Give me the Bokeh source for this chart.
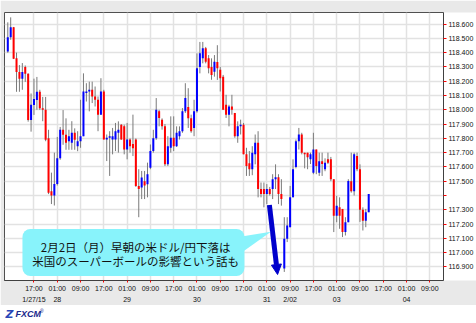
from bokeh.plotting import figure
from bokeh.models import (Range1d, FixedTicker, LinearAxis, Label, BoxAnnotation,
                          Arrow, NormalHead, ColumnDataSource)
from bokeh.layouts import column
from bokeh.embed import file_html
from bokeh.resources import INLINE

# ---------------- data (USD/JPY, 1 hour, 125 bars) ----------------
opens = [118.408, 118.508, 118.577, 118.36, 118.265, 118.218, 118.30, 118.253, 117.929, 118.033,
         118.068, 118.126, 118.01, 118.0, 117.80, 117.43, 117.40, 117.48, 117.66, 117.86,
         117.825, 117.78, 117.77, 117.84, 117.745, 117.78, 117.815, 118.117, 118.128, 118.14,
         118.093, 118.07, 117.966, 118.128, 117.792, 117.804, 117.792, 117.792, 117.839, 117.896,
         117.884, 117.722, 117.792, 117.76, 117.792, 117.467, 117.456, 117.50, 117.479, 117.595,
         117.711, 117.80, 117.99, 117.931, 117.884, 117.618, 117.734, 117.804, 117.745, 117.815,
         117.85, 117.989, 118.02, 117.94, 117.873, 117.99, 118.30, 118.36, 118.43, 118.36,
         118.30, 118.267, 118.334, 118.28, 118.232, 118.035, 117.966, 118.023, 117.978, 117.815,
         117.884, 117.896, 117.688, 117.625, 117.584, 117.688, 117.769, 117.445, 117.445, 117.41,
         117.445, 117.445, 117.514, 117.528, 117.41, 116.889, 117.097, 117.178, 117.387, 117.60,
         117.78, 117.827, 117.70, 117.70, 117.653, 117.56, 117.722, 117.56, 117.64, 117.584,
         117.653, 117.653, 117.514, 117.259, 117.317, 117.306, 117.144, 117.213, 117.50, 117.43,
         117.676, 117.584, 117.30, 117.224, 117.283]
highs = [118.612, 118.647, 118.58, 118.40, 118.313, 118.327, 118.31, 118.255, 118.114, 118.218,
         118.23, 118.14, 118.09, 118.09, 117.86, 117.56, 117.70, 117.81, 117.88, 117.998,
         117.94, 117.86, 117.92, 117.87, 117.85, 118.07, 118.255, 118.186, 118.197, 118.197,
         118.163, 118.093, 118.221, 118.14, 117.827, 117.85, 117.873, 117.908, 117.919, 117.90,
         117.896, 117.908, 117.80, 117.966, 117.80, 117.584, 117.572, 117.572, 117.63, 117.757,
         117.86, 118.082, 118.0, 117.94, 117.90, 117.815, 117.954, 117.954, 117.884, 117.884,
         118.012, 118.186, 118.151, 117.966, 118.07, 118.395, 118.475, 118.475, 118.44, 118.383,
         118.36, 118.383, 118.452, 118.30, 118.244, 118.105, 118.035, 118.105, 117.978, 117.919,
         117.931, 117.908, 117.734, 117.711, 117.745, 117.827, 117.85, 117.491, 117.491, 117.48,
         117.46, 117.549, 117.618, 117.549, 117.514, 117.248, 117.248, 117.467, 117.653, 117.792,
         117.873, 117.839, 117.70, 117.70, 117.70, 117.839, 117.722, 117.70, 117.70, 117.66,
         117.70, 117.67, 117.514, 117.398, 117.387, 117.306, 117.248, 117.514, 117.70, 117.70,
         117.70, 117.618, 117.317, 117.306, 117.41]
lows = [118.399, 118.49, 118.355, 118.126, 118.126, 118.14, 118.195, 117.917, 117.847, 117.964,
        118.0, 117.999, 117.92, 117.78, 117.41, 117.34, 117.33, 117.47, 117.65, 117.755,
        117.72, 117.72, 117.72, 117.72, 117.71, 117.734, 117.815, 118.058, 117.989, 118.047,
        118.023, 117.85, 117.966, 117.792, 117.641, 117.537, 117.688, 117.711, 117.70, 117.79,
        117.688, 117.653, 117.70, 117.676, 117.46, 117.248, 117.375, 117.375, 117.387, 117.584,
        117.70, 117.79, 117.884, 117.861, 117.606, 117.606, 117.70, 117.711, 117.74, 117.792,
        117.839, 117.978, 117.873, 117.839, 117.815, 117.98, 118.255, 118.325, 118.325, 118.255,
        118.21, 118.232, 118.209, 118.128, 118.0, 117.943, 117.884, 117.966, 117.804, 117.769,
        117.827, 117.688, 117.537, 117.537, 117.542, 117.618, 117.387, 117.387, 117.317, 117.34,
        117.40, 117.375, 117.445, 117.34, 117.329, 116.865, 117.074, 117.178, 117.387, 117.59,
        117.722, 117.688, 117.59, 117.584, 117.62, 117.549, 117.549, 117.537, 117.537, 117.57,
        117.62, 117.50, 117.144, 117.213, 117.167, 117.109, 117.12, 117.213, 117.42, 117.40,
        117.57, 117.215, 117.155, 117.178, 117.283]
closes = [118.508, 118.577, 118.357, 118.265, 118.218, 118.265, 118.253, 117.929, 118.035, 118.075,
          118.126, 118.01, 118.0, 117.79, 117.42, 117.40, 117.48, 117.66, 117.86, 117.825,
          117.77, 117.815, 117.84, 117.79, 117.78, 117.815, 118.128, 118.128, 118.14, 118.093,
          118.07, 117.966, 118.128, 117.792, 117.804, 117.815, 117.815, 117.85, 117.861, 117.792,
          117.722, 117.792, 117.745, 117.73, 117.467, 117.445, 117.526, 117.47, 117.549, 117.711,
          117.80, 118.0, 117.943, 117.884, 117.618, 117.745, 117.804, 117.745, 117.839, 117.85,
          117.989, 118.082, 117.94, 117.85, 117.989, 118.29, 118.395, 118.43, 118.336, 118.29,
          118.244, 118.336, 118.29, 118.221, 118.0, 117.966, 118.023, 118.0, 117.815, 117.884,
          117.896, 117.688, 117.606, 117.584, 117.70, 117.769, 117.445, 117.41, 117.41, 117.445,
          117.41, 117.514, 117.528, 117.41, 117.375, 117.097, 117.19, 117.387, 117.584, 117.78,
          117.827, 117.70, 117.688, 117.667, 117.688, 117.722, 117.606, 117.64, 117.62, 117.63,
          117.63, 117.514, 117.259, 117.329, 117.259, 117.144, 117.213, 117.502, 117.43, 117.688,
          117.584, 117.30, 117.224, 117.283, 117.41]
bar_index = list(range(len(opens)))

time_tick_pos = [9, 17, 25, 33, 41, 49, 57, 65, 73, 81, 89, 97, 105, 113, 121, 129, 137, 145]
time_tick_labels = ["17:00", "01:00", "09:00", "17:00", "01:00", "09:00", "17:00", "01:00", "09:00",
                    "17:00", "01:00", "09:00", "17:00", "01:00", "09:00", "17:00", "01:00", "09:00"]
date_tick_labels = ["1/27/15", "28", "", "", "29", "", "", "30", "", "",
                    "31", "2/02", "", "03", "", "", "04", ""]
price_ticks = [116.9, 117.0, 117.1, 117.2, 117.3, 117.4, 117.5, 117.6, 117.7,
               117.8, 117.9, 118.0, 118.1, 118.2, 118.3, 118.4, 118.5, 118.6]
price_labels = ["116.900", "117.000", "117.100", "117.200", "117.300", "", "117.500", "117.600",
                "117.700", "117.800", "117.900", "118.000", "118.100", "118.200", "118.300",
                "118.400", "118.500", "118.600"]

header_text = "USD/JPY , 1 hour, # 125 / 300"
note_line1 = "2月2日（月）早朝の米ドル/円下落は"
note_line2 = "米国のスーパーボールの影響という話も"

# ---------------- figure ----------------
GRAY = "#E9E9E9"
p = figure(width=476, height=305, x_range=Range1d(-1.13, 149.70), y_range=Range1d(116.805, 118.681),
           output_backend="svg", toolbar_location=None, y_axis_location="right",
           min_border_left=4, min_border_right=32, min_border_top=12, min_border_bottom=23,
           background_fill_color="white", border_fill_color=GRAY,
           outline_line_color="#505050", outline_line_width=1)

p.xgrid.ticker = FixedTicker(ticks=time_tick_pos)
p.ygrid.ticker = FixedTicker(ticks=price_ticks)
p.grid.grid_line_color = "#E2E2E2"
p.grid.grid_line_width = 1.5

# right price axis
yax = p.yaxis[0]
yax.ticker = FixedTicker(ticks=price_ticks)
yax.major_label_overrides = {t: s for t, s in zip(price_ticks, price_labels)}
yax.axis_line_color = "#404040"
yax.major_tick_line_color = "#FF0000"
yax.major_tick_out = 3
yax.major_tick_in = 0
yax.minor_tick_line_color = None
yax.major_label_standoff = 2
yax.major_label_text_font = "Liberation Sans"
yax.major_label_text_font_size = "7px"
yax.major_label_text_color = "#111111"
if "background_fill_color" in yax.properties():
    yax.background_fill_color = "white"

# bottom time axis
xax = p.xaxis[0]
xax.ticker = FixedTicker(ticks=time_tick_pos)
xax.major_label_overrides = {t: s for t, s in zip(time_tick_pos, time_tick_labels)}
xax.axis_line_color = "#404040"
xax.major_tick_line_color = "#FF0000"
xax.major_tick_out = 2
xax.major_tick_in = 0
xax.minor_tick_line_color = None
xax.major_label_standoff = 2
xax.major_label_text_font = "Liberation Sans"
xax.major_label_text_font_size = "7px"
xax.major_label_text_color = "#111111"

# bottom date axis
dax = LinearAxis(ticker=FixedTicker(ticks=time_tick_pos),
                 major_label_overrides={t: s for t, s in zip(time_tick_pos, date_tick_labels)},
                 axis_line_color=None, major_tick_line_color=None, minor_tick_line_color=None,
                 major_tick_out=0, major_tick_in=0, major_label_standoff=1,
                 major_label_text_font="Liberation Sans", major_label_text_font_size="7px",
                 major_label_text_color="#111111")
p.add_layout(dax, "below")

# candles
colors = ["#0000FF" if c >= o else "#FF0000" for o, c in zip(opens, closes)]
tops, bottoms = [], []
for o, c in zip(opens, closes):
    t, b = max(o, c), min(o, c)
    if t - b < 0.006:
        m = (t + b) / 2
        t, b = m + 0.003, m - 0.003
    tops.append(t)
    bottoms.append(b)
src = ColumnDataSource(dict(x=bar_index, o=opens, h=highs, l=lows, c=closes,
                            top=tops, bottom=bottoms, color=colors))
p.segment(x0="x", y0="l", x1="x", y1="h", source=src, line_color="#7A7A7A", line_width=1)
p.vbar(x="x", width=0.69, top="top", bottom="bottom", source=src,
       fill_color="color", line_color=None)

# header text
p.add_layout(Label(x=-1.474, y=118.723, text=header_text, text_baseline="middle",
                   text_font="Liberation Sans", text_font_size="7px", text_color="#222222"))

# callout
box = BoxAnnotation(left=5.04, right=81.31, top=117.166, bottom=116.836,
                    fill_color="#88F3FB", fill_alpha=1.0, line_color=None, level="annotation")
if "border_radius" in box.properties():
    box.border_radius = 8
p.add_layout(box)
p.patch(x=[79.77, 90.40, 79.77], y=[117.111, 117.146, 116.993],
        fill_color="#88F3FB", line_color=None, level="overlay")
for txt, yy in ((note_line1, 117.041), (note_line2, 116.944)):
    p.add_layout(Label(x=43.95, y=yy, text=txt, text_align="center", text_baseline="middle",
                       text_font="Noto Sans CJK JP", text_font_size="11.5px",
                       text_color="#111111"))

# arrow
p.add_layout(Arrow(end=NormalHead(size=10, fill_color="#0000CC", line_color="#0000CC", line_width=1),
                   x_start=89.88, y_start=117.333, x_end=92.69, y_end=116.847,
                   line_color="#0000CC", line_width=5))

# ---------------- logo strip ----------------
q = figure(width=476, height=18, x_range=Range1d(0, 476), y_range=Range1d(0, 18),
           output_backend="svg", toolbar_location=None, min_border=0,
           background_fill_color="white", border_fill_color="white", outline_line_color=None)
q.axis.visible = False
q.grid.visible = False
q.add_layout(Label(x=1, y=9.5, text="Z", text_baseline="middle", text_font="DejaVu Sans",
                   text_font_style="bold italic", text_font_size="11px", text_color="#2A48B8"))
q.add_layout(Label(x=12, y=9.5, text="FXCM", text_baseline="middle", text_font="Liberation Sans",
                   text_font_style="bold italic", text_font_size="9px", text_color="#1A2A8C"))
q.add_layout(Label(x=38.5, y=13, text="®", text_baseline="middle", text_font="Liberation Sans",
                   text_font_size="5px", text_color="#1A2A8C"))

layout = column(p, q, spacing=0)
open("out.html", "w").write(file_html(layout, INLINE))
